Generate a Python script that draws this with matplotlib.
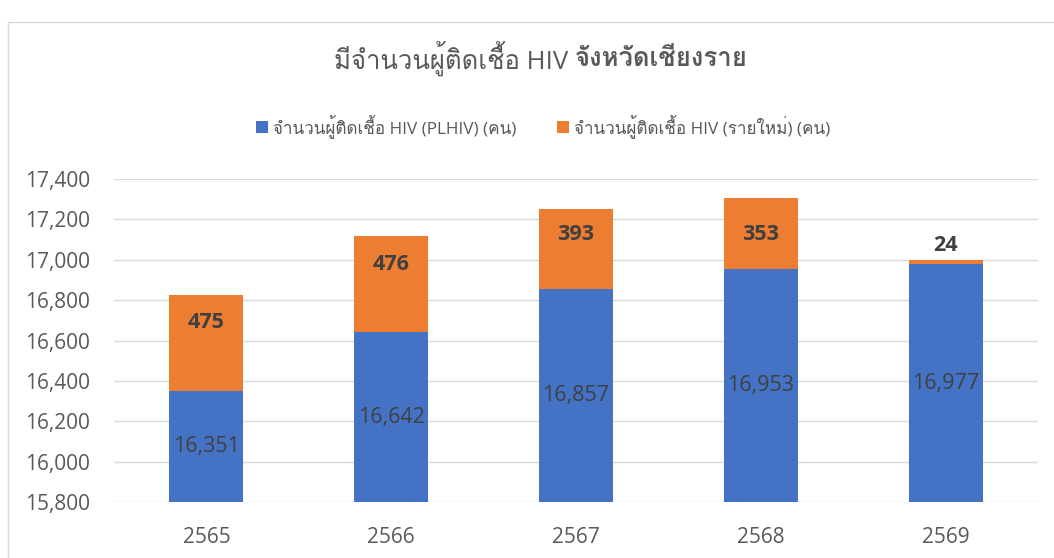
import matplotlib
matplotlib.use("Agg")
import matplotlib.pyplot as plt
from matplotlib import font_manager, ft2font
from matplotlib.patches import Rectangle

# data
years = ["2565", "2566", "2567", "2568", "2569"]
plhiv = [16351, 16642, 16857, 16953, 16977]
new_cases = [475, 476, 393, 353, 24]
yticks = [15800, 16000, 16200, 16400, 16600, 16800, 17000, 17200, 17400]

title_a = "มีจำนวนผู้ติดเชื้อ HIV "
title_b = "จังหวัดเชียงราย"
lab_plhiv = "จำนวนผู้ติดเชื้อ HIV (PLHIV) (คน)"
lab_new = "จำนวนผู้ติดเชื้อ HIV (รายใหม่) (คน)"

BLUE = "#4472C4"
ORANGE = "#ED7D31"
GREY = "#595959"
DARK = "#404040"

# look for something that can draw Thai
thai_font = None
for f in font_manager.fontManager.ttflist:
    try:
        if 0x0E08 in ft2font.FT2Font(f.fname).get_charmap():
            thai_font = f.name
            break
    except Exception:
        pass

fams = ["Open Sans"]
if thai_font:
    fams.append(thai_font)
fams.append("DejaVu Sans")
plt.rcParams["font.family"] = fams

W, H = 1054, 558
fig = plt.figure(figsize=(W / 100, H / 100), dpi=100)
ax = fig.add_axes([114 / W, 1 - 502 / H, 924 / W, 323 / H])

# chart border
fig.patches.append(Rectangle((8 / W, -0.1), 1.2, 1 - 22 / H + 0.1,
                             transform=fig.transFigure, fill=False,
                             edgecolor="#D9D9D9", linewidth=1.0))

x = range(len(years))
ax.bar(x, plhiv, width=0.4, color=BLUE, label=lab_plhiv, zorder=3)
ax.bar(x, new_cases, width=0.4, bottom=plhiv, color=ORANGE,
       label=lab_new, zorder=3)

ax.set_xlim(-0.5, len(years) - 0.5)
ax.set_ylim(yticks[0], yticks[-1])
ax.set_yticks(yticks)
ax.set_yticklabels([f"{v:,}" for v in yticks])
ax.set_xticks(list(x))
ax.set_xticklabels(years)
ax.tick_params(axis="both", length=0, labelsize=15, labelcolor=GREY)
ax.tick_params(axis="x", pad=18)
ax.tick_params(axis="y", pad=17)
ax.grid(axis="y", color="#D9D9D9", linewidth=1.0, zorder=0)
for s in ax.spines.values():
    s.set_visible(False)

# value labels
for i, v in enumerate(plhiv):
    ax.text(i, (yticks[0] + v) / 2, f"{v:,}", ha="center", va="center",
            fontsize=15.5, color=DARK, zorder=4)

offs = [-28, -29, -25, -37, 14]
for i, v in enumerate(new_cases):
    ax.annotate(f"{v:,}", (i, plhiv[i] + v), xytext=(0, offs[i]),
                textcoords="offset pixels", ha="center", va="center",
                fontsize=15.5, fontweight="bold", color=DARK, zorder=4)

leg = ax.legend(loc="center", bbox_to_anchor=(543 / W, 1 - 126 / H),
                bbox_transform=fig.transFigure, ncol=2, frameon=False,
                fontsize=12.3, handlelength=0.7, handleheight=0.7,
                handletextpad=0.3, columnspacing=2.4)
for t in leg.get_texts():
    t.set_color(GREY)

# title in two parts: plain + bold
ty = 1 - 58 / H
t1 = fig.text(0, ty, title_a, fontsize=18.5, color=GREY, va="center")
t2 = fig.text(0, ty, title_b, fontsize=18.5, color=GREY, va="center",
              fontweight="bold")
fig.canvas.draw()
r = fig.canvas.get_renderer()
w1 = t1.get_window_extent(r).width
w2 = t2.get_window_extent(r).width
x0 = 541 - (w1 + w2) / 2
t1.set_x(x0 / W)
t2.set_x((x0 + w1) / W)

fig.savefig("out.png", dpi=100)
